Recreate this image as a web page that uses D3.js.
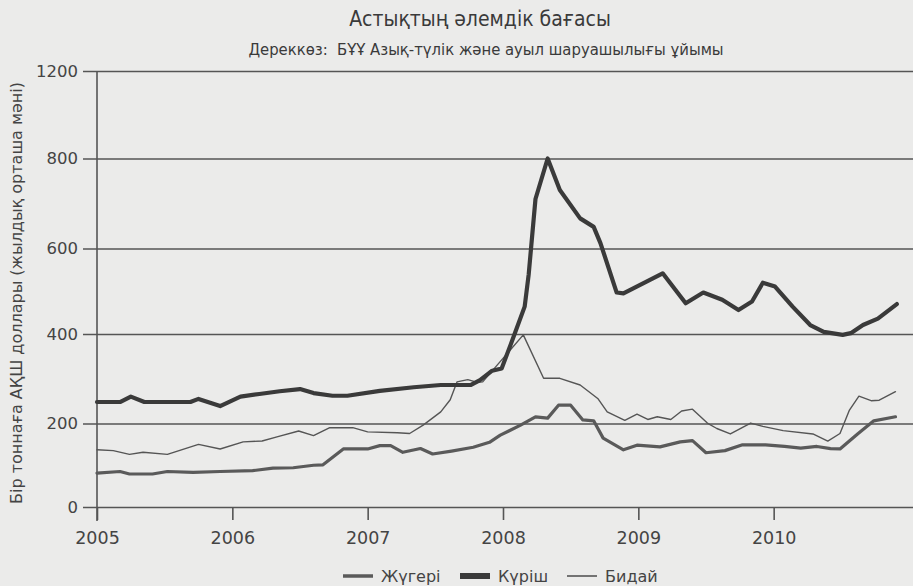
<!DOCTYPE html>
<html><head><meta charset="utf-8">
<script src="https://cdn.jsdelivr.net/npm/d3@7"></script>
<style>
html,body{margin:0;padding:0;background:#ebebea;}
svg{display:block;}
</style></head>
<body>
<svg id="chart" width="913" height="586"></svg>
<script>
const title = "Астықтың әлемдік бағасы";
const subtitle = "Дереккөз:  БҰҰ Азық-түлік және ауыл шаруашылығы ұйымы";
const yTitle = "Бір тоннаға АҚШ доллары (жылдық орташа мәні)";
const seriesNames = ["Жүгері", "Күріш", "Бидай"];
const yTickValues = [0, 200, 400, 600, 800, 1200];
const xTickValues = [2005, 2006, 2007, 2008, 2009, 2010];

// [decimal year, USD per tonne]
const maize = [
 [2005.00,81],[2005.17,85],[2005.24,79],[2005.41,79],[2005.52,85],[2005.71,83],[2005.91,85],
 [2006.15,87],[2006.30,93],[2006.45,94],[2006.60,100],[2006.67,101],[2006.82,139],[2007.00,139],
 [2007.09,147],[2007.17,147],[2007.26,131],[2007.39,140],[2007.48,127],[2007.62,134],[2007.78,143],
 [2007.90,155],[2007.98,172],[2008.13,196],[2008.24,215],[2008.33,212],[2008.41,241],[2008.50,241],
 [2008.59,208],[2008.67,206],[2008.74,165],[2008.89,137],[2008.99,148],[2009.16,144],[2009.31,156],
 [2009.40,159],[2009.50,130],[2009.64,135],[2009.77,149],[2009.94,149],[2010.08,145],[2010.20,141],
 [2010.32,145],[2010.42,140],[2010.49,139],[2010.62,175],[2010.74,206],[2010.90,215]
];
const rice = [
 [2005.00,248],[2005.17,248],[2005.25,260],[2005.35,248],[2005.69,248],[2005.75,255],[2005.91,239],
 [2006.06,260],[2006.20,266],[2006.35,272],[2006.50,277],[2006.60,268],[2006.74,262],[2006.85,262],
 [2007.09,273],[2007.34,281],[2007.54,286],[2007.76,286],[2007.83,297],[2007.92,318],[2007.99,323],
 [2008.07,387],[2008.16,464],[2008.19,540],[2008.24,710],[2008.33,800],[2008.42,730],[2008.57,667],
 [2008.67,648],[2008.72,612],[2008.84,497],[2008.89,495],[2009.18,542],[2009.35,472],[2009.48,497],
 [2009.62,480],[2009.74,456],[2009.84,476],[2009.92,520],[2010.01,511],[2010.14,464],[2010.27,421],
 [2010.37,405],[2010.51,398],[2010.57,402],[2010.66,421],[2010.77,436],[2010.91,470]
];
const wheat = [
 [2005.00,137],[2005.12,135],[2005.24,126],[2005.34,131],[2005.52,126],[2005.75,150],[2005.91,139],
 [2006.08,156],[2006.22,158],[2006.33,168],[2006.49,182],[2006.60,171],[2006.72,190],[2006.89,190],
 [2007.00,180],[2007.22,178],[2007.31,176],[2007.41,196],[2007.54,226],[2007.61,253],[2007.66,293],
 [2007.74,298],[2007.81,292],[2007.85,293],[2008.15,398],[2008.30,301],[2008.42,301],[2008.57,286],
 [2008.70,256],[2008.77,226],[2008.90,207],[2008.99,221],[2009.07,209],[2009.14,215],[2009.24,209],
 [2009.32,228],[2009.40,232],[2009.51,201],[2009.58,188],[2009.68,175],[2009.83,201],[2009.92,193],
 [2010.07,183],[2010.29,175],[2010.40,158],[2010.49,176],[2010.56,230],[2010.63,261],[2010.72,251],
 [2010.78,252],[2010.90,271]
];

const svg = d3.select("#chart");
const W = 913;
const x = d3.scaleLinear().domain([2005, 2011]).range([97, 909]);
// the printed axis jumps from 800 straight to 1200
const y = d3.scaleLinear().domain([0, 200, 400, 600, 800, 1200]).range([507, 423.5, 334, 248.5, 158.5, 71]);

const ink = "#444";
const fontMain = "'DejaVu Sans', Verdana, sans-serif";
const fontCond = "'DejaVu Sans Condensed', 'DejaVu Sans', sans-serif";

// titles
svg.append("text").attr("x", 480).attr("y", 26).attr("text-anchor", "middle")
  .attr("font-family", fontCond).attr("font-size", 21).attr("fill", "#3a3a3a").text(title);
svg.append("text").attr("x", 486).attr("y", 55).attr("text-anchor", "middle")
  .attr("font-family", fontCond).attr("font-size", 16.5).attr("fill", "#3a3a3a")
  .attr("xml:space", "preserve").text(subtitle);

// y grid + labels
const gy = svg.append("g").attr("transform", "translate(97,0)")
  .call(d3.axisLeft(y).tickValues(yTickValues).tickFormat(d3.format("d")).tickSizeInner(14).tickSizeOuter(0).tickPadding(5));
gy.select(".domain").remove();
gy.selectAll(".tick line").attr("x1", -14).attr("x2", W - 97).attr("stroke", "#555").attr("stroke-width", 1.4);
gy.selectAll(".tick text").attr("font-family", fontMain).attr("font-size", 16.5).attr("fill", ink);

// x axis ticks + labels
const gx = svg.append("g").attr("transform", "translate(0,507)")
  .call(d3.axisBottom(x).tickValues(xTickValues).tickFormat(d3.format("d")).tickSizeInner(13).tickSizeOuter(0).tickPadding(12));
gx.select(".domain").remove();
gx.selectAll(".tick line").attr("stroke", "#555").attr("stroke-width", 1.6);
gx.selectAll(".tick text").attr("font-family", fontMain).attr("font-size", 17.5).attr("fill", ink);

// vertical axis line
svg.append("line").attr("x1", x(2005)).attr("x2", x(2005)).attr("y1", y(1200)).attr("y2", 521)
  .attr("stroke", "#555").attr("stroke-width", 1.6);

// y title
svg.append("text").attr("transform", "translate(22,293) rotate(-90)").attr("text-anchor", "middle")
  .attr("font-family", fontMain).attr("font-size", 16).attr("fill", ink).text(yTitle);

// lines
const line = d3.line().x(d => x(d[0])).y(d => y(d[1])).curve(d3.curveLinear);
const styles = [
  {name: seriesNames[0], data: maize, color: "#5a5a5a", width: 3.2},
  {name: seriesNames[1], data: rice, color: "#3a3a3a", width: 4.2},
  {name: seriesNames[2], data: wheat, color: "#555", width: 1.4}
];
[styles[2], styles[0], styles[1]].forEach(s => {
  svg.append("path").datum(s.data).attr("d", line).attr("fill", "none")
    .attr("stroke", s.color).attr("stroke-width", s.width)
    .attr("stroke-linejoin", "round").attr("stroke-linecap", "round");
});

// legend
const legendX = [343, 460, 567];
const lg = svg.append("g");
styles.forEach((s, i) => {
  const g = lg.append("g").attr("transform", `translate(${legendX[i]},576)`);
  g.append("line").attr("x1", 0).attr("x2", 30).attr("y1", 0).attr("y2", 0)
    .attr("stroke", s.color).attr("stroke-width", i === 1 ? 6 : (i === 0 ? 3.5 : 1.6));
  g.append("text").attr("x", 38).attr("y", 6).attr("font-family", fontMain).attr("font-size", 16)
    .attr("fill", ink).text(s.name);
});
</script>
</body></html>
